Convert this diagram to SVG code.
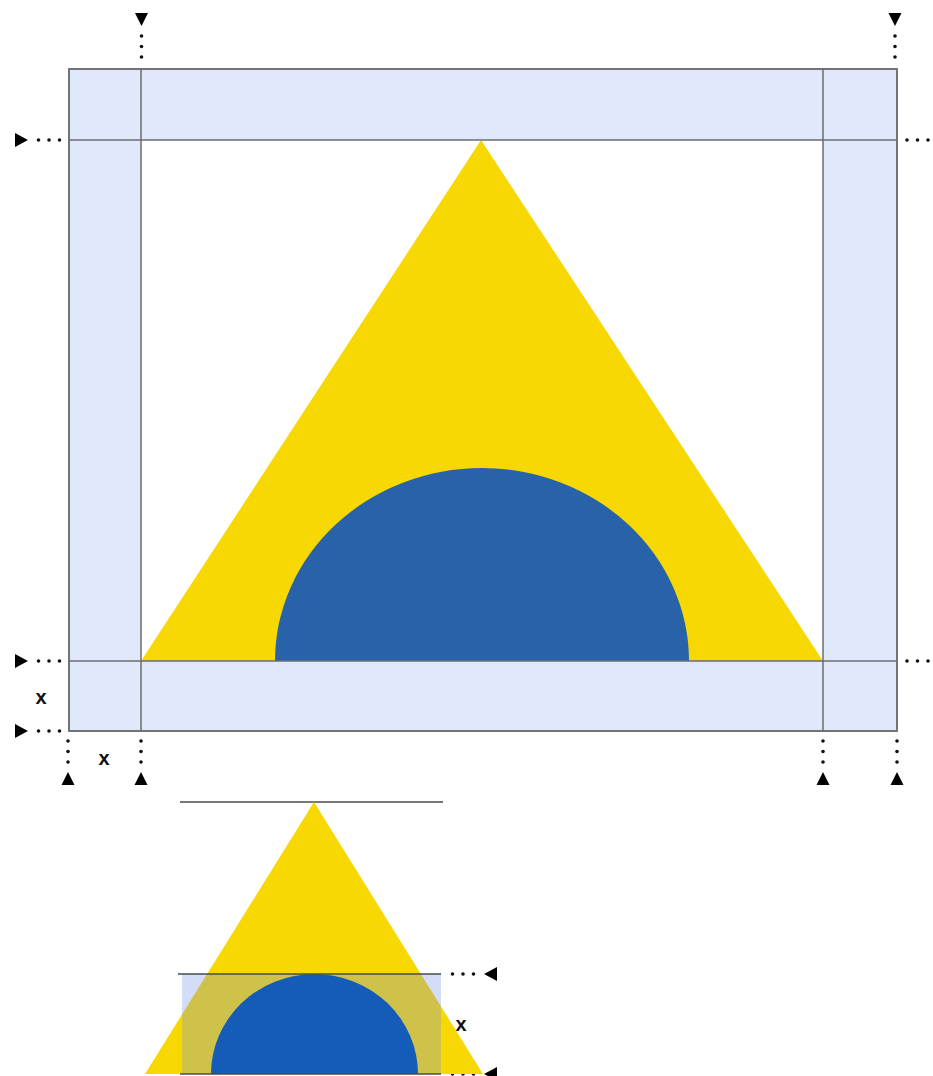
<svg xmlns="http://www.w3.org/2000/svg" width="933" height="1076" viewBox="0 0 933 1076">
<defs>
<style>
.frame{fill:#e0e9fb;stroke:#6b6b70;stroke-width:1.5}
.grid{stroke:#6b6b70;stroke-width:1.5;fill:none}
.line{stroke:#4a4a4a;stroke-width:1.5;fill:none}
.yellow{fill:#f8d803}
.dot{fill:#111}
.arr{fill:#000}
.lbl{font-family:"Liberation Sans",Arial,sans-serif;font-size:20px;font-weight:bold;fill:#111;text-anchor:middle}
</style>
<g id="dotsV"><circle cx="0" cy="0" r="1.8" class="dot"/><circle cx="0" cy="10.5" r="1.8" class="dot"/><circle cx="0" cy="21" r="1.8" class="dot"/></g>
<g id="dotsH"><circle cx="0" cy="0" r="1.8" class="dot"/><circle cx="10.5" cy="0" r="1.8" class="dot"/><circle cx="21" cy="0" r="1.8" class="dot"/></g>
<path id="aDown" d="M-6.5,0 L6.5,0 L0,13 Z" class="arr"/>
<path id="aUp" d="M-6.5,0 L6.5,0 L0,-13 Z" class="arr"/>
<path id="aRight" d="M0,-7 L0,7 L13,0 Z" class="arr"/>
<path id="aLeft" d="M0,-7 L0,7 L-13,0 Z" class="arr"/>
</defs>
<rect width="933" height="1076" fill="#fff"/>

<g id="frame">
<rect x="69" y="69" width="828" height="662" class="frame"/>
<rect x="141" y="140" width="682" height="521" fill="#fff"/>
</g>
<g id="triangle">
<polygon points="481,140 141,661 823,661" class="yellow"/>
</g>
<g id="semicircle">
<path d="M275,661 A207,193 0 0 1 689,661 Z" fill="#2863a9"/>
</g>
<g id="gridlines">
<line x1="141" y1="69" x2="141" y2="731" class="grid"/>
<line x1="823" y1="69" x2="823" y2="731" class="grid"/>
<line x1="69" y1="140" x2="897" y2="140" class="grid"/>
<line x1="69" y1="661" x2="897" y2="661" class="grid"/>
<rect x="69" y="69" width="828" height="662" fill="none" class="grid"/>
</g>

<g id="connectors">
<use href="#aDown" x="141.5" y="13"/><use href="#dotsV" x="141.5" y="36"/>
<use href="#aDown" x="895" y="13"/><use href="#dotsV" x="895" y="36"/>
<use href="#aRight" x="15" y="140"/><use href="#dotsH" x="38.5" y="140"/>
<use href="#aRight" x="15" y="661"/><use href="#dotsH" x="38.5" y="661"/>
<use href="#aRight" x="15" y="731"/><use href="#dotsH" x="38.5" y="731"/>
<use href="#dotsH" x="907" y="140"/>
<use href="#dotsH" x="907" y="661"/>
<use href="#dotsV" x="68" y="741"/><use href="#aUp" x="68" y="785"/>
<use href="#dotsV" x="141" y="741"/><use href="#aUp" x="141" y="785"/>
<use href="#dotsV" x="823" y="741"/><use href="#aUp" x="823" y="785"/>
<use href="#dotsV" x="897" y="741"/><use href="#aUp" x="897" y="785"/>
<use href="#dotsH" x="452.5" y="974"/><use href="#aLeft" x="497" y="974"/>
<use href="#dotsH" x="452.5" y="1074"/><use href="#aLeft" x="497" y="1074"/>
</g>

<g id="labels">
<text x="41" y="704" class="lbl">x</text>
<text x="104" y="765" class="lbl">x</text>
<text x="461" y="1031" class="lbl">x</text>
</g>

<g id="lower-figure">
<line x1="180" y1="802" x2="443" y2="802" class="line"/>
<polygon points="314,802 145,1074 483,1074" class="yellow"/>
<rect x="182" y="974" width="259" height="100" fill="#7491e8" fill-opacity="0.31"/>
<path d="M211,1074 A103.5,100 0 0 1 418,1074 Z" fill="#155bb8"/>
<line x1="178" y1="974" x2="441" y2="974" class="line"/>
<line x1="180" y1="1074" x2="441" y2="1074" class="line"/>
</g>
</svg>
